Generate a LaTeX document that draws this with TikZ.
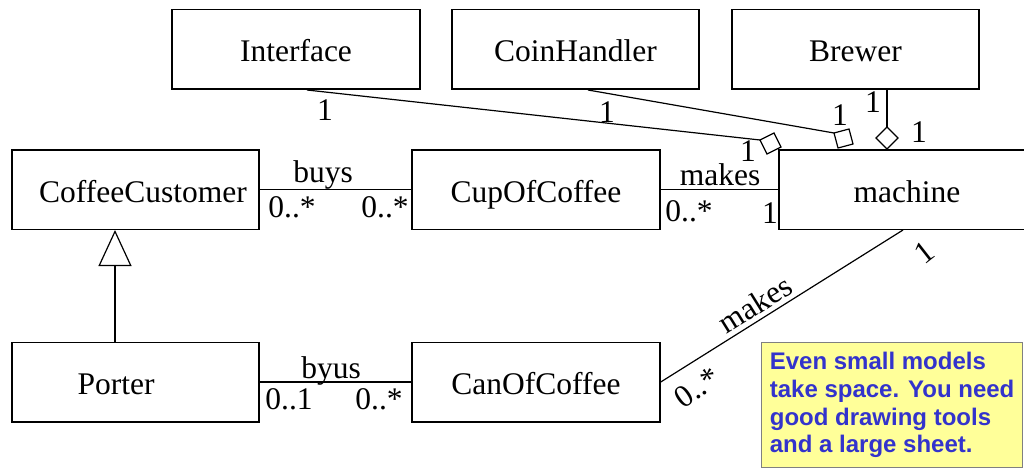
\documentclass[tikz,border=0pt]{standalone}
\usepackage{fontspec}
\setmainfont{Liberation Serif}
\newfontfamily\notefont{Liberation Sans}
\newfontfamily\umlfont{Liberation Serif}
\usetikzlibrary{arrows.meta}
\definecolor{noteyellow}{HTML}{FFFF99}
\definecolor{noteblue}{HTML}{3333CC}
\definecolor{noteedge}{HTML}{808080}

\begin{document}
\begin{tikzpicture}[x=1pt,y=-1pt,
  every node/.style={font=\umlfont\fontsize{31.5}{36}\selectfont},
  cls/.style={draw, line width=1.5pt, rectangle, minimum height=79.5pt},
  clsname/.style={inner sep=0pt, anchor=base},
  assoc/.style={line width=1.2pt},
  lbl/.style={inner sep=0pt, anchor=base},
  rlbl/.style={inner sep=0pt},
  agg/.style={draw, fill=white, line width=1.2pt, line join=miter},
  note/.style={draw=noteedge, fill=noteyellow, line width=1.2pt,
               text=noteblue, align=left, inner sep=0pt,
               font=\notefont\bfseries\fontsize{24}{27.6}\selectfont},
]
\useasboundingbox (0,0) rectangle (1024,468);

% classes
\node[cls, minimum width=248pt] (iface) at (296,49.5)    {};
\node[cls, minimum width=247pt] (coin)  at (575.5,49.5)  {};
\node[cls, minimum width=247pt] (brew)  at (855.5,49.5)  {};
\node[cls, minimum width=247pt] (cust)  at (135.5,189.5) {};
\node[cls, minimum width=248pt] (cup)   at (536,189.5)   {};
\node[cls, minimum width=261pt] (mach)  at (909.5,189.5) {};
\node[cls, minimum width=247pt] (port)  at (135.5,382)   {};
\node[cls, minimum width=248pt] (can)   at (536,382)     {};

% class names, set on a common baseline inside each box
\node[clsname] (iface-n) at ([yshift=-12.5pt]iface.center) {Interface};
\node[clsname] (coin-n)  at ([yshift=-12.5pt]coin.center)  {CoinHandler};
\node[clsname] (brew-n)  at ([yshift=-12.5pt]brew.center)  {Brewer};
\node[clsname] (cust-n)  at ([xshift=7.5pt,yshift=-12.5pt]cust.center) {CoffeeCustomer};
\node[clsname] (cup-n)   at ([yshift=-12.5pt]cup.center)   {CupOfCoffee};
\node[clsname] (mach-n)  at ([xshift=-2.5pt,yshift=-12.5pt]mach.center)  {machine};
\node[clsname] (port-n)  at ([xshift=-19.5pt,yshift=-12.5pt]port.center) {Porter};
\node[clsname] (can-n)   at ([yshift=-12.5pt]can.center)   {CanOfCoffee};

% associations between the lower classes
\draw[assoc] (cust.east) -- (cup.west);
\draw[assoc] (port.east) -- (can.west);
\draw[assoc] (cup.east) -- (mach.west);
\draw[assoc] ([xshift=-6.5pt]mach.south) -- (can.east);

% generalization Porter -> CoffeeCustomer
\coordinate (gx) at (115,0);
\draw[assoc, -{Triangle[open,length=36pt,width=33pt]}]
  (port.north -| gx) -- (cust.south -| gx);

% aggregations of the parts into machine
\coordinate (d1) at (760,140);
\coordinate (d2) at (834,133);
\coordinate (d3) at (887,127);
\draw[assoc] ([xshift=11pt]iface.south) -- (d1);
\draw[assoc] ([xshift=12.5pt]coin.south) -- (d2);
\draw[assoc] ([xshift=31.5pt]brew.south) -- (d3);
\draw[agg] (d1) -- ++(14,-7) -- ++(7,14) -- ++(-14,7) -- cycle;
\draw[agg] (d2) -- ++(15,-4) -- ++(4,15) -- ++(-15,4) -- cycle;
\draw[agg] (d3) -- ++(11,11) -- ++(-11,11) -- ++(-11,-11) -- cycle;

% multiplicities and role names
\node[lbl] (m1) at (325,121) {1};
\node[lbl] (m2) at (607,122) {1};
\node[lbl] (m3) at (840,125) {1};
\node[lbl] (m4) at (873,113) {1};
\node[lbl] (m5) at (919,142) {1};
\node[lbl] (m6) at (748,161) {1};

\node[lbl] (buys)  at (323,182) {buys};
\node[lbl] (b1)    at (292,217) {0..*};
\node[lbl] (b2)    at (385,217) {0..*};

\node[lbl] (byus)  at (331,378) {byus};
\node[lbl] (p1)    at (289,409) {0..1};
\node[lbl] (p2)    at (379,409) {0..*};

\node[lbl] (makes) at (720,185) {makes};
\node[lbl] (k1)    at (689,221) {0..*};
\node[lbl] (k2)    at (770,223) {1};

\node[rlbl, rotate=32] (makes2) at (755,304) {makes};
\node[rlbl, rotate=38] (c1)     at (924,252) {1};
\node[rlbl, rotate=35] (c2)     at (697,388) {0..*};

% note
\node[note, minimum width=261pt, minimum height=125pt, anchor=north west]
  (memo) at (761,342)
  {Even small models\\take space. You need\\good drawing tools\\and a large sheet.};
\end{tikzpicture}
\end{document}
